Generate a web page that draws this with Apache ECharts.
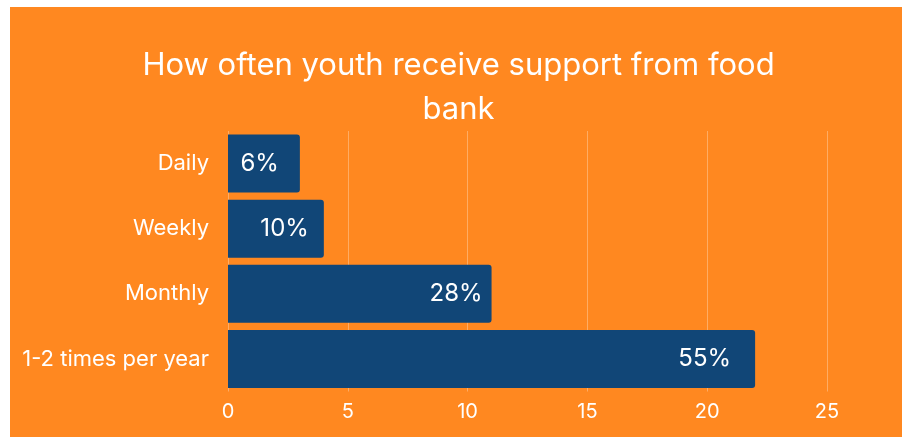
<!DOCTYPE html>
<html>
<head>
<meta charset="utf-8">
<script src="https://cdn.jsdelivr.net/npm/echarts@6/dist/echarts.min.js"></script>
<style>
  html, body { margin: 0; padding: 0; background: #ffffff; width: 902px; height: 437px; overflow: hidden; }
  #chart { position: absolute; left: 10px; top: 7px; width: 892px; height: 430px; }
</style>
</head>
<body>
<div id="chart"></div>
<script>
const titleText = 'How often youth receive support from food\nbank';
const categories = ['Daily', 'Weekly', 'Monthly', '1-2 times per year'];
const counts = [3, 4, 11, 22];
const percentLabels = ['6%', '10%', '28%', '55%'];
const xTicks = [0, 5, 10, 15, 20, 25];

const labelGap = [21, 15, 9, 24];
const FONT = 'Inter';

const chart = echarts.init(document.getElementById('chart'), null, { renderer: 'canvas' });
chart.setOption({
  backgroundColor: '#FF8820',
  animation: false,
  title: {
    text: titleText,
    left: 448.5,
    top: 37,
    padding: 0,
    textAlign: 'center',
    textStyle: { color: '#ffffff', fontFamily: FONT, fontSize: 31, fontWeight: 'normal', lineHeight: 44, align: 'center' }
  },
  grid: { left: 218, right: 75, top: 124, bottom: 45.5, containLabel: false },
  xAxis: {
    type: 'value',
    min: xTicks[0],
    max: xTicks[xTicks.length - 1],
    interval: xTicks[1] - xTicks[0],
    axisLine: { show: false },
    axisTick: { show: false },
    axisLabel: { color: '#ffffff', fontFamily: FONT, fontSize: 20, fontWeight: 'normal', margin: 10 },
    splitLine: { show: true, lineStyle: { color: 'rgba(255,255,255,0.3)', width: 1 } }
  },
  yAxis: {
    type: 'category',
    inverse: true,
    data: categories,
    axisLine: { show: false },
    axisTick: { show: false },
    axisLabel: { color: '#ffffff', fontFamily: FONT, fontSize: 22, fontWeight: 'normal', margin: 19 },
    splitLine: { show: false }
  },
  series: [{
    type: 'bar',
    barWidth: 58,
    data: counts.map((v, i) => ({
      value: v,
      label: { distance: labelGap[i] }
    })),
    itemStyle: { color: '#114677', borderRadius: [0, 3, 3, 0] },
    label: {
      show: true,
      position: 'insideRight',
      color: '#ffffff',
      fontFamily: FONT,
      fontSize: 24,
      fontWeight: 'normal',
      formatter: p => percentLabels[p.dataIndex]
    }
  }]
});
</script>
</body>
</html>
